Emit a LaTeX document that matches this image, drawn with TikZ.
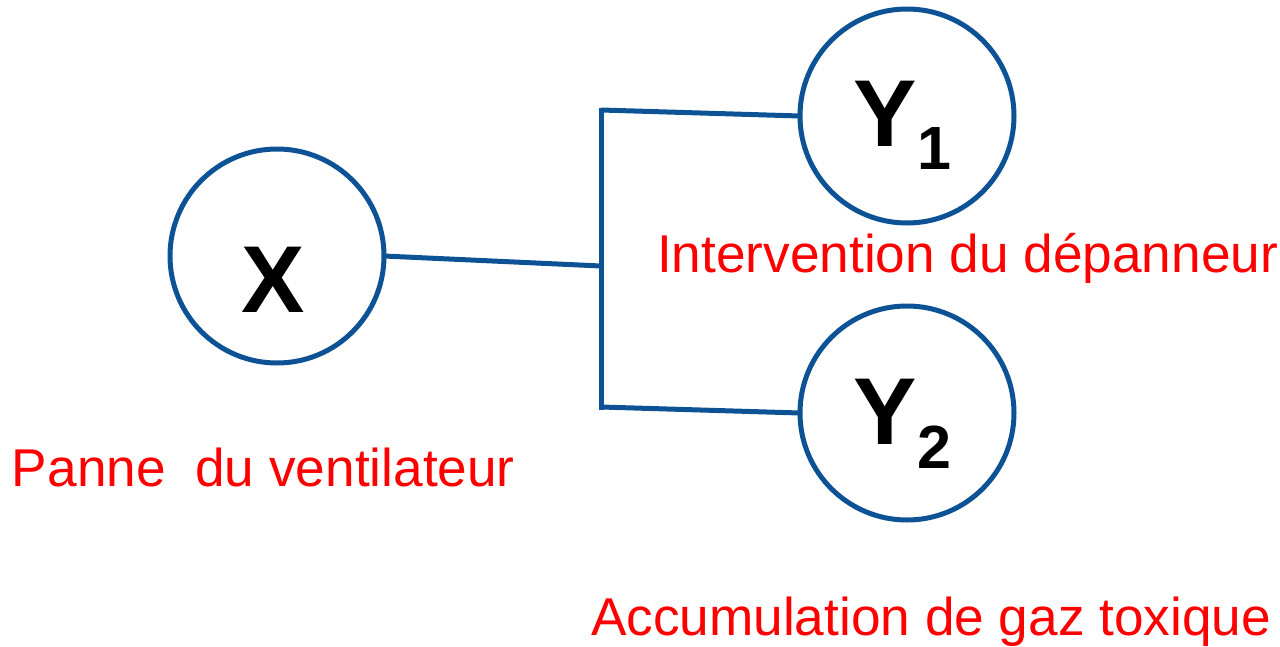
\documentclass[tikz,border=0pt]{standalone}
\usepackage{fontspec}
\setmainfont{Liberation Sans}
\definecolor{linkblue}{RGB}{14,82,150}
\definecolor{labelred}{RGB}{255,0,0}

\begin{document}
\begin{tikzpicture}[x=1pt,y=-1pt]

\def\rad{107}

\tikzset{
    every node/.style={inner sep=0pt, outer sep=0pt},
    event/.style={circle, draw=linkblue, line width=5pt, minimum size=2*\rad},
    wire/.style={draw=linkblue, line width=5pt},
    varname/.style={anchor=base west, font=\fontsize{95}{95}\selectfont\bfseries},
    caption/.style={anchor=base west, text=labelred, font=\fontsize{53.2}{60}\selectfont}
}

\useasboundingbox (0,0) rectangle (1280,646);

% circles
\node[event] (X) at (277,256) {};
\node[event] (Y1) at (907,116) {};
\node[event] (Y2) at (907,413) {};

\node[varname] (X label) at (241,312) {X};
\node[varname] (Y1 label) at (853,146) {Y\kern1pt\raisebox{-23pt}{\fontsize{61}{61}\selectfont 1}};
\node[varname] (Y2 label) at (853,444) {Y\kern1pt\raisebox{-24pt}{\fontsize{61}{61}\selectfont 2}};

% branching
\coordinate (fork) at (601,266);
\coordinate (fork top) at (601,110);
\coordinate (fork bottom) at (601,407);

\path[wire] (X.east) -- (fork);
\path[wire, line cap=rect] (fork top) -- (fork bottom);
\path[wire] (fork top) -- (Y1.west);
\path[wire] (fork bottom) -- (Y2.west);

% texts
\node[caption] (cause) at (12,486) {Panne\ \ du ventilateur};
\node[caption] (effect one) at (657,272) {Intervention du dépanneur};
\node[caption] (effect two) at (591,635) {Accumulation de gaz toxique};

\end{tikzpicture}
\end{document}
